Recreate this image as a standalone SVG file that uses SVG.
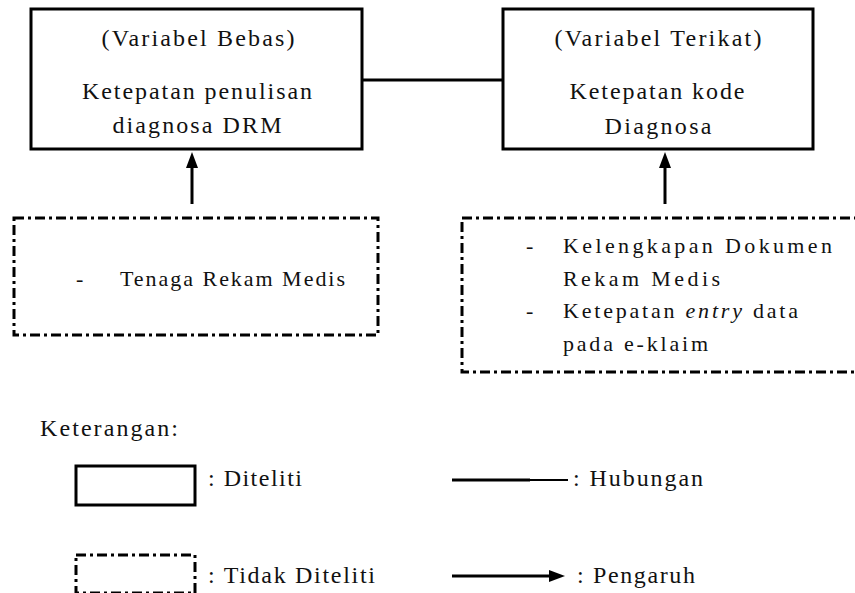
<svg xmlns="http://www.w3.org/2000/svg" width="855" height="593" viewBox="0 0 855 593">
<style>
text{font-family:"Liberation Serif","Times New Roman",serif;fill:#111;}
.t{font-size:24px;}
.s{font-size:22px;}
.box{fill:#fff;stroke:#000;stroke-width:3;}
.dbox{fill:#fff;stroke:#000;stroke-width:3;stroke-dasharray:10 4 3 4;}
.ln{stroke:#000;stroke-width:3;fill:none;}
</style>
<defs>
<marker id="ah" viewBox="0 0 16 12" refX="8" refY="6" markerWidth="16" markerHeight="12" markerUnits="userSpaceOnUse" orient="auto">
<path d="M0,0 L16,6 L0,12 z" fill="#000"/>
</marker>
</defs>
<rect width="855" height="593" fill="#fff"/>
<g id="connectors">
<line class="ln" x1="362" y1="80" x2="503" y2="80"/>
<line class="ln" x1="192" y1="204" x2="192" y2="160" marker-end="url(#ah)"/>
<line class="ln" x1="665" y1="204" x2="665" y2="160" marker-end="url(#ah)"/>
</g>
<g id="variabel-bebas">
<rect class="box" x="31" y="9" width="331" height="140"/>
<text class="t" x="198" y="46" text-anchor="middle" textLength="193" lengthAdjust="spacing">(Variabel Bebas)</text>
<text class="t" x="197" y="99" text-anchor="middle" textLength="230" lengthAdjust="spacing">Ketepatan penulisan</text>
<text class="t" x="197" y="133" text-anchor="middle" textLength="169" lengthAdjust="spacing">diagnosa DRM</text>
</g>
<g id="variabel-terikat">
<rect class="box" x="503" y="9" width="310" height="140"/>
<text class="t" x="658" y="46" text-anchor="middle" textLength="207" lengthAdjust="spacing">(Variabel Terikat)</text>
<text class="t" x="657" y="99" text-anchor="middle" textLength="175" lengthAdjust="spacing">Ketepatan kode</text>
<text class="t" x="658" y="134" text-anchor="middle" textLength="107" lengthAdjust="spacing">Diagnosa</text>
</g>
<g id="tenaga">
<rect class="dbox" x="14" y="218" width="364" height="117"/>
<text class="s" x="76" y="286">-</text>
<text class="s" x="120" y="286" textLength="225" lengthAdjust="spacing">Tenaga Rekam Medis</text>
</g>
<g id="kelengkapan">
<rect class="dbox" x="462" y="218" width="420" height="154"/>
<text class="s" x="526" y="253">-</text>
<text class="s" x="563" y="253" textLength="269" lengthAdjust="spacing">Kelengkapan Dokumen</text>
<text class="s" x="563" y="286" textLength="157" lengthAdjust="spacing">Rekam Medis</text>
<text class="s" x="526" y="318">-</text>
<text class="s" x="563" y="318" textLength="235" lengthAdjust="spacing">Ketepatan <tspan font-style="italic">entry</tspan> data</text>
<text class="s" x="563" y="351" textLength="145" lengthAdjust="spacing">pada e-klaim</text>
</g>
<g id="legend">
<text class="t" x="40" y="436" textLength="138" lengthAdjust="spacing">Keterangan:</text>
<rect class="box" x="76" y="466" width="119" height="39"/>
<text class="t" x="208" y="486" textLength="94" lengthAdjust="spacing">: Diteliti</text>
<rect class="dbox" x="76" y="555" width="119" height="38"/>
<text class="t" x="208" y="583" textLength="167" lengthAdjust="spacing">: Tidak Diteliti</text>
<line class="ln" x1="452" y1="480" x2="530" y2="480"/>
<line x1="530" y1="480" x2="568" y2="480" stroke="#000" stroke-width="2"/>
<text class="t" x="573" y="486" textLength="130" lengthAdjust="spacing">: Hubungan</text>
<line class="ln" x1="452" y1="576" x2="557" y2="576" marker-end="url(#ah)"/>
<text class="t" x="577" y="583" textLength="118" lengthAdjust="spacing">: Pengaruh</text>
</g>
</svg>
